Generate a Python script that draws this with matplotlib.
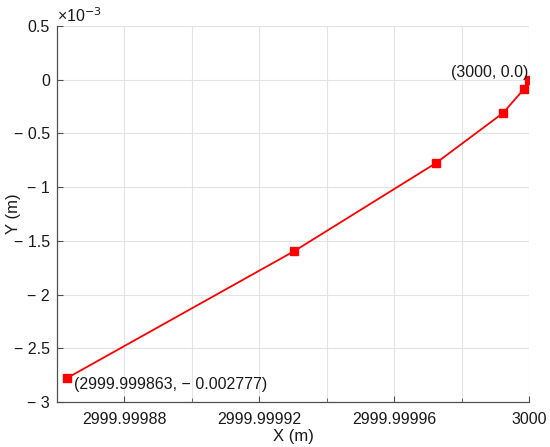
import matplotlib
matplotlib.use("Agg")
import matplotlib.pyplot as plt
from matplotlib.ticker import FixedLocator

plt.rcParams['font.family'] = ['Liberation Sans', 'DejaVu Sans']

x_vals = [2999.999863, 2999.9999304, 2999.9999724, 2999.9999923, 2999.9999985, 3000.0]
y_vals = [-0.002777, -0.001595, -0.000776, -0.000310, -0.000087, 0.0]
x_ticks = [2999.99988, 2999.99992, 2999.99996, 3000.0]
x_tick_labels = ['2999.99988', '2999.99992', '2999.99996', '3000']
y_ticks = [-0.003, -0.0025, -0.002, -0.0015, -0.001, -0.0005, 0.0, 0.0005]
y_tick_labels = ['\u2212 3', '\u2212 2.5', '\u2212 2', '\u2212 1.5', '\u2212 1', '\u2212 0.5', '0', '0.5']
start_label = '(2999.999863, \u2212 0.002777)'
end_label = '(3000, 0.0)'

fig = plt.figure(figsize=(5.5, 4.47), dpi=100)
ax = fig.add_axes([0.1036, 0.1007, 0.8582, 0.8411])

ax.plot(x_vals, y_vals, color='#ff0000', lw=1.3, marker='s', markersize=6,
        markerfacecolor='#ff0000', markeredgecolor='#ff0000', zorder=3)

ax.set_xlim(2999.99986, 3000.0)
ax.set_ylim(-0.003, 0.0005)
ax.xaxis.set_major_locator(FixedLocator(x_ticks))
ax.set_xticklabels(x_tick_labels)
ax.xaxis.set_minor_locator(FixedLocator([2999.9999, 2999.99994, 2999.99998]))
ax.yaxis.set_major_locator(FixedLocator(y_ticks))
ax.set_yticklabels(y_tick_labels)

ax.grid(True, which='both', color='#e3e3e3', lw=0.8)
ax.set_axisbelow(True)
for s in ['top', 'right']:
    ax.spines[s].set_visible(False)
for s in ['left', 'bottom']:
    ax.spines[s].set_color('#505050')
    ax.spines[s].set_linewidth(0.9)
ax.tick_params(which='both', direction='in', length=4, color='#505050',
               labelsize=11.5, labelcolor='#1a1a1a')
ax.tick_params(axis='x', pad=7)
ax.tick_params(axis='y', pad=5)
ax.tick_params(which='minor', length=3)

ax.set_xlabel('X (m)', fontsize=12, color='#1a1a1a')
ax.set_ylabel('Y (m)', fontsize=12, color='#1a1a1a')
ax.xaxis.label.set_va('center')
ax.yaxis.label.set_va('center')
ax.xaxis.set_label_coords(0.5, -0.093)
ax.yaxis.set_label_coords(-0.093, 0.5)

ax.text(0.0, 1.003, '\u00d710$^{-3}$', transform=ax.transAxes, fontsize=11.5,
        ha='left', va='bottom', color='#1a1a1a')

ax.annotate(start_label, (x_vals[0], y_vals[0]), xytext=(5, -4.5),
            textcoords='offset points', ha='left', va='center', fontsize=11.5,
            color='#1a1a1a')
ax.annotate(end_label, (x_vals[-1], y_vals[-1]), xytext=(-0.7, 5.5),
            textcoords='offset points', ha='right', va='center', fontsize=11.5,
            color='#1a1a1a')

fig.savefig('out.png', dpi=100)
